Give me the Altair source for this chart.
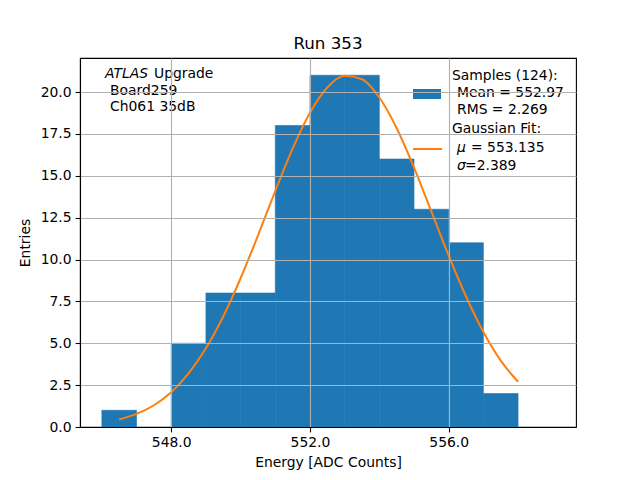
import altair as alt
import pandas as pd

# Histogram bins (ADC counts) and entries
bin_start = [546, 547, 548, 549, 550, 551, 552, 553, 554, 555, 556, 557]
bin_end = [547, 548, 549, 550, 551, 552, 553, 554, 555, 556, 557, 558]
entries = [1, 0, 5, 8, 8, 18, 21, 21, 16, 13, 11, 2]

# Gaussian fit curve
fit_x = [546.5, 547.0, 547.5, 548.0, 548.5, 549.0, 549.5, 550.0, 550.5, 551.0,
         551.5, 552.0, 552.5, 553.0, 553.5, 554.0, 554.5, 555.0, 555.5, 556.0,
         556.5, 557.0, 557.5, 558.0]
fit_y = [0.45, 0.78, 1.30, 2.08, 3.20, 4.70, 6.60, 8.88, 11.43, 14.09,
         16.62, 18.76, 20.27, 20.97, 20.76, 19.67, 17.84, 15.49, 12.87, 10.23,
         7.79, 5.67, 3.96, 2.70]

x_ticks = [548, 552, 556]
y_ticks = [0, 2.5, 5, 7.5, 10, 12.5, 15, 17.5, 20]

FONT = "DejaVu Sans"
FS = 13.9
BLUE = "#1f77b4"
ORANGE = "#ff7f0e"

hist_df = pd.DataFrame({"start": bin_start, "end": bin_end, "n": entries})
hist_df = hist_df[hist_df["n"] > 0]
fit_df = pd.DataFrame({"x": fit_x, "y": fit_y})

xscale = alt.Scale(domain=[545.37, 559.67], nice=False, zero=False)
yscale = alt.Scale(domain=[0, 22.03], nice=False)

bars = alt.Chart(hist_df).mark_rect(color=BLUE, stroke=BLUE, strokeWidth=0.6).encode(
    x=alt.X("start:Q", scale=xscale,
            axis=alt.Axis(values=x_ticks, format=".1f", title="Energy [ADC Counts]",
                          zindex=1, grid=True)),
    x2="end:Q",
    y=alt.Y("n:Q", scale=yscale,
            axis=alt.Axis(values=y_ticks, format=".1f", title="Entries",
                          zindex=1, grid=True)),
    y2=alt.datum(0),
)

curve = alt.Chart(fit_df).mark_line(color=ORANGE, strokeWidth=2, interpolate="monotone").encode(
    x=alt.X("x:Q", scale=xscale),
    y=alt.Y("y:Q", scale=yscale),
)


def txt(s, x, y, italic=False):
    return alt.Chart(pd.DataFrame({"t": [s]})).mark_text(
        font=FONT, fontSize=FS, align="left", baseline="middle", color="black",
        fontStyle="italic" if italic else "normal",
    ).encode(text="t:N", x=alt.value(x), y=alt.value(y))


# Annotation texts
atlas_word = "ATLAS"
upgrade_word = "Upgrade"
board_line = "Board259"
channel_line = "Ch061 35dB"
samples_lines = ["Samples (124):", "Mean = 552.97", "RMS = 2.269"]
fit_title = "Gaussian Fit:"
mu_sym, mu_val = "μ", "= 553.135"
sigma_sym, sigma_val = "σ", "=2.389"

L = 80  # plot left in page px
T = 58  # plot top in page px

annotations = [
    txt(atlas_word, 105 - L, 74 - T, italic=True),
    txt(upgrade_word, 154 - L, 74 - T),
    txt(board_line, 110 - L, 91 - T),
    txt(channel_line, 110 - L, 107 - T),
    txt(samples_lines[0], 452 - L, 76 - T),
    txt(samples_lines[1], 457 - L, 93 - T),
    txt(samples_lines[2], 457 - L, 110 - T),
    txt(fit_title, 452 - L, 129 - T),
    txt(mu_sym, 457 - L, 148 - T, italic=True),
    txt(mu_val, 471 - L, 148 - T),
    txt(sigma_sym, 457 - L, 166 - T, italic=True),
    txt(sigma_val, 465 - L, 166 - T),
]

patch = alt.Chart(pd.DataFrame({"k": [0]})).mark_rect(color=BLUE).encode(
    x=alt.value(413 - L), x2=alt.value(441 - L), y=alt.value(89 - T), y2=alt.value(99 - T)
)
legline = alt.Chart(pd.DataFrame({"k": [0]})).mark_rule(color=ORANGE, strokeWidth=2).encode(
    x=alt.value(413 - L), x2=alt.value(442 - L), y=alt.value(149 - T)
)

chart = alt.layer(bars, curve, patch, legline, *annotations).properties(
    width=496,
    height=369,
    title=alt.TitleParams("Run 353", font=FONT, fontSize=16.7, fontWeight="normal",
                          color="black", anchor="middle", offset=5),
    autosize=alt.AutoSizeParams(type="none"),
    padding={"left": 72, "top": 50, "right": 56, "bottom": 45},
).configure_view(
    stroke="black", strokeWidth=1.1
).configure_axis(
    gridColor="#b0b0b0",
    gridWidth=1.1,
    domainColor="black",
    domainWidth=1.1,
    tickColor="black",
    tickWidth=1.1,
    tickSize=4.9,
    labelFont=FONT,
    labelFontSize=FS,
    labelColor="black",
    labelPadding=4,
    titleFont=FONT,
    titleFontSize=FS,
    titleFontWeight="normal",
    titleColor="black",
).configure_axisX(
    titlePadding=6,
).configure_axisY(
    titlePadding=8,
)

chart.save("out.html", embed_options={"renderer": "svg", "actions": False})
